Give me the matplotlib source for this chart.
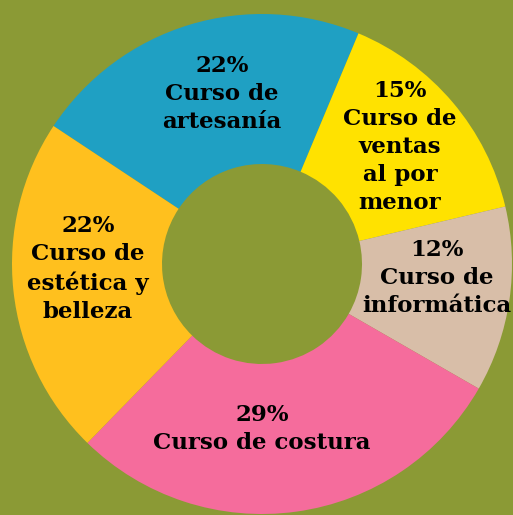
"""Donut chart of course shares."""
import matplotlib
matplotlib.use('Agg')
import matplotlib.pyplot as plt

# Data
courses = ['Curso de\nartesanía', 'Curso de\nventas\nal por\nmenor', 'Curso de\ninformática',
           'Curso de costura', 'Curso de\nestética y\nbelleza']
shares = [22, 15, 12, 29, 22]
colors = ['#1FA0C3', '#FFE200', '#D8BEA8', '#F56C9C', '#FFC01E']

# label anchors in pixels from the top-left (placement only)
label_pos = [(222, 94), (400, 147), (437, 278), (262, 429), (88, 269)]

W, H = 513, 515
BG = '#8B9A35'

fig = plt.figure(figsize=(W / 100, H / 100), dpi=100)
fig.patch.set_facecolor(BG)
ax = fig.add_axes([0, 0, 1, 1])
ax.set_facecolor(BG)

cx, cy = 262, H - 264
ax.pie(shares, colors=colors, startangle=146.5, counterclock=False,
       center=(cx, cy), radius=250, frame=True,
       wedgeprops=dict(width=150, linewidth=0))
ax.set_xlim(0, W)
ax.set_ylim(0, H)
ax.set_aspect('equal')
ax.axis('off')

for share, name, (x, y) in zip(shares, courses, label_pos):
    ax.text(x, H - y, f'{share}%\n{name}', ha='center', va='center',
            fontsize=16.5, fontweight='bold', family='DejaVu Serif',
            color='black', linespacing=1.35, multialignment='center')

plt.savefig('out.png', dpi=100, facecolor=BG)
plt.close(fig)
